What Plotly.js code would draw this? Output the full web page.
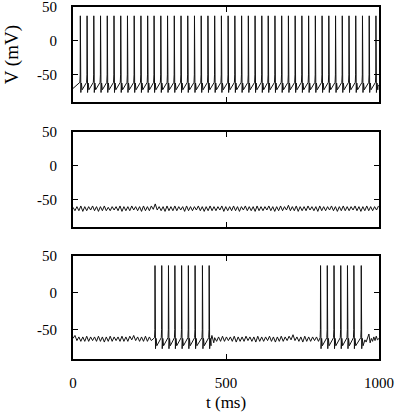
<!DOCTYPE html>
<html>
<head>
<meta charset="utf-8">
<script src="https://cdn.plot.ly/plotly-3.0.1.min.js"></script>
<style>html,body{margin:0;padding:0;background:#fff}#chart{width:399px;height:417px}
#chart text{font-family:'Liberation Serif','Times New Roman',serif !important;fill:#000 !important}</style>
</head>
<body>
<div id="chart"></div>
<script>
// ---------------- data ----------------
// spike times (ms)
const topSpikes = [24, 46, 68, 90, 112, 134, 156, 178, 200, 222, 244, 265, 287, 309, 331, 353, 375, 397, 419, 441, 463, 485, 507, 529, 551, 573, 595, 617, 638, 660, 682, 704, 726, 748, 770, 792, 814, 836, 858, 880, 902, 924, 946, 968, 990];
const bottomBurst1 = [268, 290, 312, 333, 355, 377, 399, 423, 445];
const bottomBurst2 = [809, 831, 853, 875, 897, 918, 942];
const spikePeak = 37;      // mV
const spikeTrough = -76;   // mV

// subthreshold oscillation samples (mV), one sample every oscStep ms
const oscStep = 6.4;
const midOsc = [
-61,-66,-60,-66,-59,-67,-60,-66,-60,-65,
-59,-66,-60,-67,-60,-66,-59,-66,-61,-66,
-60,-65,-60,-66,-59,-67,-60,-66,-60,-66,
-59,-65,-60,-66,-60,-67,-59,-66,-60,-66,
-59,-64,-56,-65,-60,-66,-60,-67,-59,-66,
-60,-66,-59,-66,-60,-65,-60,-67,-59,-66,
-60,-66,-60,-65,-59,-66,-60,-67,-60,-66,
-59,-66,-60,-66,-60,-65,-59,-67,-60,-66,
-60,-66,-59,-66,-60,-67,-60,-65,-59,-66,
-60,-66,-60,-67,-59,-66,-60,-66,-60,-65,
-59,-66,-60,-67,-60,-66,-59,-66,-60,-65,
-58,-66,-60,-66,-59,-67,-60,-66,-60,-66,
-59,-65,-60,-66,-60,-67,-59,-66,-60,-66,
-60,-65,-59,-66,-60,-67,-60,-66,-59,-66,
-60,-66,-60,-65,-59,-66,-60,-67,-60,-66,
-59,-66,-60,-66,-60,-65,-59];
const bottomOscAStart = 0;
const bottomOscA = [
-62,-58,-65,-60,-66,-60,-66,-59,-66,-60,
-65,-60,-66,-59,-66,-60,-67,-60,-66,-59,
-66,-60,-65,-60,-66,-59,-66,-60,-66,-59,
-64,-58,-65,-60,-66,-60,-66,-59,-66,-60,
-65];
const bottomOscBStart = 463;
const bottomOscB = [
-61,-66,-60,-66,-59,-66,-60,-65,-60,-66,
-59,-67,-60,-66,-60,-66,-59,-65,-60,-66,
-60,-67,-59,-66,-60,-66,-60,-65,-59,-66,
-60,-67,-60,-66,-59,-66,-60,-65,-59,-64,
-57,-65,-60,-66,-60,-67,-59,-66,-60,-66,
-60,-65,-60,-66];
// hand-read (t, V) points around bursts / trace ends
const topLeadT = [0, 8];
const topLeadV = [-70, -67];
const topTailT = [997, 1000];
const topTailV = [-66, -65];
const bottomTail1T = [451, 454, 457, 460];
const bottomTail1V = [-64, -58, -66, -68];
const bottomTail2T = [949, 954, 958, 963, 967, 971, 975, 979, 983, 987, 991, 995, 1000];
const bottomTail2V = [-70, -64, -67, -62, -56, -68, -62, -66, -60, -65, -59, -64, -62];

// ---------------- build traces ----------------
// spike waveform template (shape only): offsets in ms and voltages
const preT = [-1.5, -0.5], preV = [-61, -50];
const postT = [0.8, 1.6, 3.5, 6], postV = [-40, spikeTrough, -62, -72];

function addSpikes(xs, ys, times) {
  times.forEach(t0 => {
    preT.forEach((d, k) => { xs.push(t0 + d); ys.push(preV[k]); });
    xs.push(t0); ys.push(spikePeak);
    postT.forEach((d, k) => { xs.push(t0 + d); ys.push(postV[k]); });
  });
}
function addPoints(xs, ys, tArr, vArr) {
  tArr.forEach((t, k) => { xs.push(t); ys.push(vArr[k]); });
}
function addOsc(xs, ys, start, vals) {
  vals.forEach((v, k) => { xs.push(start + k * oscStep); ys.push(v); });
}

const x1 = [], y1 = [];
addPoints(x1, y1, topLeadT, topLeadV);
addSpikes(x1, y1, topSpikes);
addPoints(x1, y1, topTailT, topTailV);

const x2 = [], y2 = [];
addOsc(x2, y2, 0, midOsc);

const x3 = [], y3 = [];
addOsc(x3, y3, bottomOscAStart, bottomOscA);
addSpikes(x3, y3, bottomBurst1);
addPoints(x3, y3, bottomTail1T, bottomTail1V);
addOsc(x3, y3, bottomOscBStart, bottomOscB);
addSpikes(x3, y3, bottomBurst2);
addPoints(x3, y3, bottomTail2T, bottomTail2V);

const lineStyle = {color: '#111', width: 1};
const traces = [
  {x: x1, y: y1, xaxis: 'x', yaxis: 'y', mode: 'lines', line: lineStyle},
  {x: x2, y: y2, xaxis: 'x2', yaxis: 'y2', mode: 'lines', line: lineStyle},
  {x: x3, y: y3, xaxis: 'x3', yaxis: 'y3', mode: 'lines', line: lineStyle}
];

const FONT = 'Liberation Serif';
const ax = {
  showline: true, linecolor: '#000', linewidth: 2, mirror: 'all',
  ticks: 'inside', ticklen: 5, tickwidth: 1.3, tickcolor: '#000',
  showgrid: false, zeroline: false, ticklabeloverflow: 'allow'
};
const xTicks = [0, 500, 1000];
const yTicks = [-50, 0, 50];
function xa(anchor, labels) {
  return Object.assign({}, ax, {anchor: anchor, domain: [0, 1], range: [0, 1000],
    tickfont: {family: FONT, size: 15},
    tickvals: xTicks, ticktext: xTicks.map(String), showticklabels: labels, ticklabelstandoff: 9});
}
function ya(anchor, dom) {
  return Object.assign({}, ax, {anchor: anchor, domain: dom, range: [-90, 50],
    tickfont: {family: FONT, size: 15},
    tickvals: yTicks, ticktext: yTicks.map(String), ticklabelstandoff: 11});
}
const layout = {
  width: 399, height: 417,
  margin: {l: 73, r: 20, t: 7, b: 58},
  showlegend: false,
  font: {family: FONT},
  xaxis: xa('y', false), yaxis: ya('x', [0.7301, 1]),
  xaxis2: xa('y2', false), yaxis2: ya('x2', [0.375, 0.645]),
  xaxis3: xa('y3', true), yaxis3: ya('x3', [0, 0.2926]),
  annotations: [
    {text: 't (ms)', xref: 'paper', yref: 'paper', x: 0.5, y: -0.124, xanchor: 'center', yanchor: 'middle',
     showarrow: false, font: {family: FONT, size: 17}},
    {text: 'V (mV)', xref: 'paper', yref: 'paper', x: -0.2, y: 0.865, xanchor: 'center', yanchor: 'middle',
     textangle: -90, showarrow: false, font: {family: FONT, size: 19}}
  ]
};
function forceFont() {
  document.querySelectorAll('#chart text').forEach(t => {
    t.style.setProperty('font-family', "'Liberation Serif', 'Times New Roman', serif", 'important');
  });
}
Plotly.newPlot('chart', traces, layout, {displayModeBar: false}).then(() => {
  forceFont();
  setTimeout(forceFont, 50);
});
</script>
</body>
</html>
